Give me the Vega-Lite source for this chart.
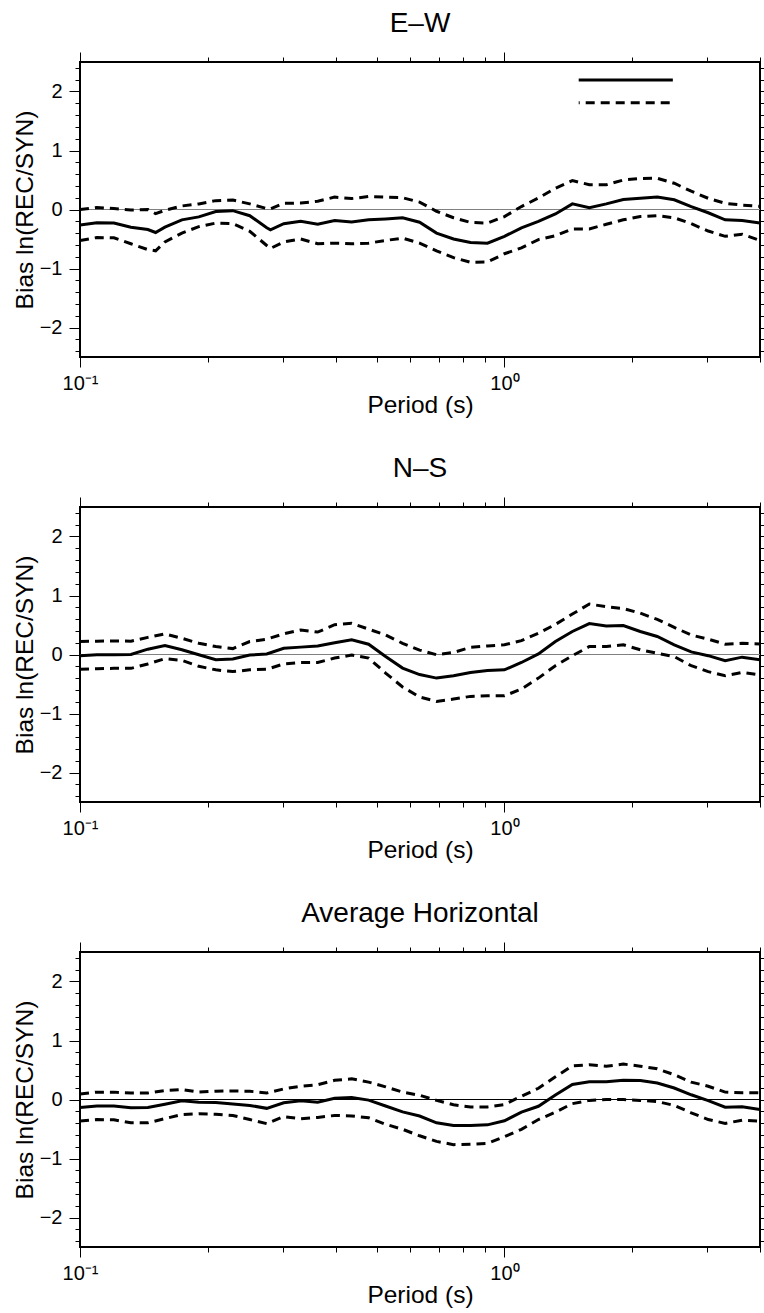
{
  "$schema": "https://vega.github.io/schema/vega-lite/v6.json",
  "padding": {"left": 11, "top": 8, "right": 0, "bottom": 0},
  "background": "white",
  "datasets": {
    "bias": [
      {"c":"E–W","T":0.1,"m":-0.265,"u":0.0,"l":-0.525},
      {"c":"E–W","T":0.1096,"m":-0.225,"u":0.035,"l":-0.475},
      {"c":"E–W","T":0.1202,"m":-0.23,"u":0.015,"l":-0.48},
      {"c":"E–W","T":0.1318,"m":-0.3,"u":-0.01,"l":-0.58},
      {"c":"E–W","T":0.1445,"m":-0.34,"u":0.0,"l":-0.68},
      {"c":"E–W","T":0.1507,"m":-0.39,"u":-0.07,"l":-0.7},
      {"c":"E–W","T":0.1585,"m":-0.3,"u":-0.015,"l":-0.55},
      {"c":"E–W","T":0.1738,"m":-0.175,"u":0.06,"l":-0.4},
      {"c":"E–W","T":0.1905,"m":-0.125,"u":0.095,"l":-0.29},
      {"c":"E–W","T":0.2089,"m":-0.035,"u":0.15,"l":-0.23},
      {"c":"E–W","T":0.2291,"m":-0.02,"u":0.16,"l":-0.24},
      {"c":"E–W","T":0.2512,"m":-0.105,"u":0.095,"l":-0.37},
      {"c":"E–W","T":0.2754,"m":-0.31,"u":0.015,"l":-0.61},
      {"c":"E–W","T":0.281,"m":-0.345,"u":0.01,"l":-0.66},
      {"c":"E–W","T":0.302,"m":-0.24,"u":0.105,"l":-0.55},
      {"c":"E–W","T":0.3311,"m":-0.2,"u":0.11,"l":-0.5},
      {"c":"E–W","T":0.3631,"m":-0.25,"u":0.14,"l":-0.58},
      {"c":"E–W","T":0.3981,"m":-0.185,"u":0.21,"l":-0.57},
      {"c":"E–W","T":0.4365,"m":-0.21,"u":0.185,"l":-0.58},
      {"c":"E–W","T":0.4786,"m":-0.175,"u":0.22,"l":-0.57},
      {"c":"E–W","T":0.5248,"m":-0.16,"u":0.21,"l":-0.525},
      {"c":"E–W","T":0.5754,"m":-0.14,"u":0.2,"l":-0.485},
      {"c":"E–W","T":0.631,"m":-0.215,"u":0.125,"l":-0.57},
      {"c":"E–W","T":0.6918,"m":-0.4,"u":-0.03,"l":-0.7},
      {"c":"E–W","T":0.7586,"m":-0.5,"u":-0.14,"l":-0.815},
      {"c":"E–W","T":0.8318,"m":-0.56,"u":-0.22,"l":-0.895},
      {"c":"E–W","T":0.912,"m":-0.57,"u":-0.23,"l":-0.89},
      {"c":"E–W","T":1.0,"m":-0.455,"u":-0.12,"l":-0.75},
      {"c":"E–W","T":1.0965,"m":-0.31,"u":0.05,"l":-0.65},
      {"c":"E–W","T":1.2023,"m":-0.2,"u":0.195,"l":-0.51},
      {"c":"E–W","T":1.3183,"m":-0.075,"u":0.36,"l":-0.445},
      {"c":"E–W","T":1.4454,"m":0.095,"u":0.49,"l":-0.33},
      {"c":"E–W","T":1.5849,"m":0.03,"u":0.42,"l":-0.33},
      {"c":"E–W","T":1.7378,"m":0.095,"u":0.42,"l":-0.25},
      {"c":"E–W","T":1.9055,"m":0.17,"u":0.5,"l":-0.175},
      {"c":"E–W","T":2.0893,"m":0.19,"u":0.525,"l":-0.12},
      {"c":"E–W","T":2.2909,"m":0.21,"u":0.53,"l":-0.105},
      {"c":"E–W","T":2.5119,"m":0.165,"u":0.445,"l":-0.14},
      {"c":"E–W","T":2.7542,"m":0.05,"u":0.31,"l":-0.24},
      {"c":"E–W","T":3.02,"m":-0.055,"u":0.19,"l":-0.365},
      {"c":"E–W","T":3.3113,"m":-0.175,"u":0.105,"l":-0.455},
      {"c":"E–W","T":3.6308,"m":-0.185,"u":0.075,"l":-0.42},
      {"c":"E–W","T":4.0,"m":-0.23,"u":0.055,"l":-0.525},

      {"c":"N–S","T":0.1,"m":-0.02,"u":0.22,"l":-0.25},
      {"c":"N–S","T":0.1096,"m":-0.005,"u":0.225,"l":-0.24},
      {"c":"N–S","T":0.1202,"m":-0.005,"u":0.23,"l":-0.235},
      {"c":"N–S","T":0.1318,"m":0.0,"u":0.225,"l":-0.235},
      {"c":"N–S","T":0.1445,"m":0.09,"u":0.29,"l":-0.16},
      {"c":"N–S","T":0.1585,"m":0.15,"u":0.35,"l":-0.07},
      {"c":"N–S","T":0.1738,"m":0.08,"u":0.275,"l":-0.1},
      {"c":"N–S","T":0.1905,"m":-0.005,"u":0.19,"l":-0.2},
      {"c":"N–S","T":0.2089,"m":-0.09,"u":0.135,"l":-0.26},
      {"c":"N–S","T":0.2291,"m":-0.075,"u":0.1,"l":-0.29},
      {"c":"N–S","T":0.2512,"m":-0.01,"u":0.22,"l":-0.26},
      {"c":"N–S","T":0.2754,"m":0.01,"u":0.26,"l":-0.25},
      {"c":"N–S","T":0.302,"m":0.105,"u":0.35,"l":-0.16},
      {"c":"N–S","T":0.3311,"m":0.125,"u":0.415,"l":-0.135},
      {"c":"N–S","T":0.3631,"m":0.145,"u":0.38,"l":-0.135},
      {"c":"N–S","T":0.3981,"m":0.2,"u":0.505,"l":-0.06},
      {"c":"N–S","T":0.4365,"m":0.25,"u":0.53,"l":-0.01},
      {"c":"N–S","T":0.4786,"m":0.175,"u":0.43,"l":-0.06},
      {"c":"N–S","T":0.5248,"m":-0.035,"u":0.33,"l":-0.315},
      {"c":"N–S","T":0.5754,"m":-0.23,"u":0.19,"l":-0.55},
      {"c":"N–S","T":0.631,"m":-0.34,"u":0.075,"l":-0.72},
      {"c":"N–S","T":0.6918,"m":-0.4,"u":-0.005,"l":-0.795},
      {"c":"N–S","T":0.7586,"m":-0.36,"u":0.035,"l":-0.755},
      {"c":"N–S","T":0.8318,"m":-0.305,"u":0.12,"l":-0.71},
      {"c":"N–S","T":0.912,"m":-0.27,"u":0.145,"l":-0.7},
      {"c":"N–S","T":1.0,"m":-0.26,"u":0.165,"l":-0.7},
      {"c":"N–S","T":1.0965,"m":-0.135,"u":0.235,"l":-0.585},
      {"c":"N–S","T":1.2023,"m":0.01,"u":0.36,"l":-0.4},
      {"c":"N–S","T":1.3183,"m":0.22,"u":0.51,"l":-0.19},
      {"c":"N–S","T":1.4454,"m":0.39,"u":0.685,"l":-0.02},
      {"c":"N–S","T":1.5849,"m":0.525,"u":0.855,"l":0.135},
      {"c":"N–S","T":1.7378,"m":0.485,"u":0.81,"l":0.135},
      {"c":"N–S","T":1.9055,"m":0.49,"u":0.78,"l":0.165},
      {"c":"N–S","T":2.0893,"m":0.39,"u":0.7,"l":0.08},
      {"c":"N–S","T":2.2909,"m":0.305,"u":0.595,"l":0.02},
      {"c":"N–S","T":2.5119,"m":0.165,"u":0.46,"l":-0.035},
      {"c":"N–S","T":2.7542,"m":0.045,"u":0.33,"l":-0.19},
      {"c":"N–S","T":3.02,"m":-0.02,"u":0.26,"l":-0.29},
      {"c":"N–S","T":3.3113,"m":-0.105,"u":0.175,"l":-0.36},
      {"c":"N–S","T":3.6308,"m":-0.045,"u":0.19,"l":-0.305},
      {"c":"N–S","T":4.0,"m":-0.09,"u":0.18,"l":-0.345},

      {"c":"Average Horizontal","T":0.1,"m":-0.135,"u":0.095,"l":-0.365},
      {"c":"Average Horizontal","T":0.1096,"m":-0.11,"u":0.125,"l":-0.34},
      {"c":"Average Horizontal","T":0.1202,"m":-0.11,"u":0.125,"l":-0.345},
      {"c":"Average Horizontal","T":0.1318,"m":-0.14,"u":0.11,"l":-0.395},
      {"c":"Average Horizontal","T":0.1445,"m":-0.135,"u":0.11,"l":-0.395},
      {"c":"Average Horizontal","T":0.1585,"m":-0.08,"u":0.15,"l":-0.325},
      {"c":"Average Horizontal","T":0.1738,"m":-0.02,"u":0.17,"l":-0.255},
      {"c":"Average Horizontal","T":0.1905,"m":-0.045,"u":0.125,"l":-0.24},
      {"c":"Average Horizontal","T":0.2089,"m":-0.05,"u":0.14,"l":-0.25},
      {"c":"Average Horizontal","T":0.2291,"m":-0.075,"u":0.145,"l":-0.27},
      {"c":"Average Horizontal","T":0.2512,"m":-0.1,"u":0.14,"l":-0.34},
      {"c":"Average Horizontal","T":0.2754,"m":-0.15,"u":0.11,"l":-0.41},
      {"c":"Average Horizontal","T":0.302,"m":-0.055,"u":0.18,"l":-0.29},
      {"c":"Average Horizontal","T":0.3311,"m":-0.02,"u":0.225,"l":-0.325},
      {"c":"Average Horizontal","T":0.3631,"m":-0.045,"u":0.25,"l":-0.305},
      {"c":"Average Horizontal","T":0.3981,"m":0.02,"u":0.325,"l":-0.27},
      {"c":"Average Horizontal","T":0.4365,"m":0.035,"u":0.35,"l":-0.28},
      {"c":"Average Horizontal","T":0.4786,"m":-0.01,"u":0.295,"l":-0.31},
      {"c":"Average Horizontal","T":0.5248,"m":-0.11,"u":0.215,"l":-0.42},
      {"c":"Average Horizontal","T":0.5754,"m":-0.21,"u":0.125,"l":-0.505},
      {"c":"Average Horizontal","T":0.631,"m":-0.28,"u":0.072,"l":-0.615},
      {"c":"Average Horizontal","T":0.6918,"m":-0.395,"u":-0.015,"l":-0.71},
      {"c":"Average Horizontal","T":0.7586,"m":-0.44,"u":-0.09,"l":-0.765},
      {"c":"Average Horizontal","T":0.8318,"m":-0.44,"u":-0.125,"l":-0.76},
      {"c":"Average Horizontal","T":0.912,"m":-0.43,"u":-0.125,"l":-0.745},
      {"c":"Average Horizontal","T":1.0,"m":-0.36,"u":-0.085,"l":-0.63},
      {"c":"Average Horizontal","T":1.0965,"m":-0.215,"u":0.055,"l":-0.505},
      {"c":"Average Horizontal","T":1.2023,"m":-0.115,"u":0.19,"l":-0.34},
      {"c":"Average Horizontal","T":1.3183,"m":0.075,"u":0.385,"l":-0.215},
      {"c":"Average Horizontal","T":1.4454,"m":0.255,"u":0.57,"l":-0.07},
      {"c":"Average Horizontal","T":1.5849,"m":0.3,"u":0.59,"l":-0.015},
      {"c":"Average Horizontal","T":1.7378,"m":0.3,"u":0.565,"l":0.0},
      {"c":"Average Horizontal","T":1.9055,"m":0.325,"u":0.6,"l":0.0},
      {"c":"Average Horizontal","T":2.0893,"m":0.32,"u":0.565,"l":-0.015},
      {"c":"Average Horizontal","T":2.2909,"m":0.28,"u":0.52,"l":-0.035},
      {"c":"Average Horizontal","T":2.5119,"m":0.195,"u":0.42,"l":-0.1},
      {"c":"Average Horizontal","T":2.7542,"m":0.08,"u":0.295,"l":-0.225},
      {"c":"Average Horizontal","T":3.02,"m":-0.02,"u":0.225,"l":-0.34},
      {"c":"Average Horizontal","T":3.3113,"m":-0.13,"u":0.125,"l":-0.405},
      {"c":"Average Horizontal","T":3.6308,"m":-0.125,"u":0.115,"l":-0.35},
      {"c":"Average Horizontal","T":4.0,"m":-0.17,"u":0.115,"l":-0.365}
    ],
    "legend": [
      {"s":"solid","T":1.496,"v":2.196},
      {"s":"solid","T":2.493,"v":2.196},
      {"s":"dashed","T":1.496,"v":1.808},
      {"s":"dashed","T":2.493,"v":1.808}
    ]
  },
  "config": {
    "font": "Liberation Sans",
    "view": {"stroke": "black", "strokeWidth": 2},
    "axis": {
      "grid": false,
      "domain": false,
      "tickColor": "black",
      "tickWidth": 1,
      "labelColor": "black",
      "titleColor": "black",
      "labelFont": "Liberation Sans",
      "titleFont": "Liberation Sans",
      "labelFontSize": 20,
      "titleFontSize": 24.5,
      "titleFontWeight": "normal"
    },
    "title": {"font": "Liberation Sans", "fontSize": 28, "fontWeight": "normal", "color": "black", "frame": "group", "anchor": "middle", "offset": 14}
  },
  "spacing": 35,
  "vconcat": [
    {
      "title": "E–W",
      "width": 680, "height": 295,
      "data": {"name": "bias"},
      "transform": [{"filter": "datum.c == 'E–W'"}],
      "layer": [
        {"mark": {"type": "rule", "color": "#808080", "strokeWidth": 1},
         "encoding": {"y": {"datum": 0, "type": "quantitative", "scale": {"domain": [-2.5, 2.5], "nice": false, "zero": false}, "axis": null}}},
        {"mark": {"type": "line", "color": "black", "strokeWidth": 3, "clip": true},
         "encoding": {
           "x": {"field": "T", "type": "quantitative", "scale": {"type": "log", "domain": [0.1, 4], "nice": false},
                 "axis": {"orient": "bottom", "title": "Period (s)", "values": [0.1,0.2,0.3,0.4,0.5,0.6,0.7,0.8,0.9,1,2,3,4], "tickSize": {"condition": {"test": "datum.value == 0.1 || datum.value == 1", "value": 10}, "value": 5}, "labelExpr": "datum.value == 0.1 ? '10⁻¹' : (datum.value == 1 ? '10⁰' : '')", "labelPadding": 6, "titlePadding": 0, "labelOverlap": false, "labelFlush": false}},
           "y": {"field": "m", "type": "quantitative", "scale": {"domain": [-2.5, 2.5], "nice": false, "zero": false},
                 "axis": {"orient": "left", "title": "Bias ln(REC/SYN)", "values": [-2.4,-2.2,-2,-1.8,-1.6,-1.4,-1.2,-1,-0.8,-0.6,-0.4,-0.2,0,0.2,0.4,0.6,0.8,1,1.2,1.4,1.6,1.8,2,2.2,2.4], "tickSize": {"condition": {"test": "datum.value % 1 == 0", "value": 11}, "value": 5}, "labelExpr": "datum.value % 1 == 0 ? replace(format(datum.value, '.0f'), '-', '−') : ''", "labelPadding": 7, "titlePadding": 2, "labelOverlap": false, "labelFlush": false}}
         }},
        {"mark": {"type": "line", "color": "black", "strokeWidth": 3, "strokeDash": [9, 6], "clip": true},
         "encoding": {
           "x": {"field": "T", "type": "quantitative",
                 "axis": {"orient": "top", "title": null, "labels": false, "values": [0.1,0.2,0.3,0.4,0.5,0.6,0.7,0.8,0.9,1,2,3,4], "tickSize": {"condition": {"test": "datum.value == 0.1 || datum.value == 1", "value": 10}, "value": 5}}},
           "y": {"field": "u", "type": "quantitative",
                 "axis": {"orient": "right", "title": null, "labels": false, "values": [-2.4,-2.2,-2,-1.8,-1.6,-1.4,-1.2,-1,-0.8,-0.6,-0.4,-0.2,0,0.2,0.4,0.6,0.8,1,1.2,1.4,1.6,1.8,2,2.2,2.4], "tickSize": {"condition": {"test": "datum.value % 1 == 0", "value": 11}, "value": 5}}}
         }},
        {"mark": {"type": "line", "color": "black", "strokeWidth": 3, "strokeDash": [9, 6], "clip": true},
         "encoding": {
           "x": {"field": "T", "type": "quantitative", "axis": null},
           "y": {"field": "l", "type": "quantitative", "axis": null}
         }},
        {"data": {"name": "legend"},
         "transform": [{"filter": "datum.s == 'solid'"}],
         "mark": {"type": "line", "color": "black", "strokeWidth": 3},
         "encoding": {
           "x": {"field": "T", "type": "quantitative", "axis": null},
           "y": {"field": "v", "type": "quantitative", "axis": null}
         }},
        {"data": {"name": "legend"},
         "transform": [{"filter": "datum.s == 'dashed'"}],
         "mark": {"type": "line", "color": "black", "strokeWidth": 3, "strokeDash": [9, 6], "strokeDashOffset": 8},
         "encoding": {
           "x": {"field": "T", "type": "quantitative", "axis": null},
           "y": {"field": "v", "type": "quantitative", "axis": null}
         }}
      ],
      "resolve": {"axis": {"x": "independent", "y": "independent"}}
    },
    {
      "title": "N–S",
      "width": 680, "height": 295,
      "data": {"name": "bias"},
      "transform": [{"filter": "datum.c == 'N–S'"}],
      "layer": [
        {"mark": {"type": "rule", "color": "#808080", "strokeWidth": 1},
         "encoding": {"y": {"datum": 0, "type": "quantitative", "scale": {"domain": [-2.5, 2.5], "nice": false, "zero": false}, "axis": null}}},
        {"mark": {"type": "line", "color": "black", "strokeWidth": 3, "clip": true},
         "encoding": {
           "x": {"field": "T", "type": "quantitative", "scale": {"type": "log", "domain": [0.1, 4], "nice": false},
                 "axis": {"orient": "bottom", "title": "Period (s)", "values": [0.1,0.2,0.3,0.4,0.5,0.6,0.7,0.8,0.9,1,2,3,4], "tickSize": {"condition": {"test": "datum.value == 0.1 || datum.value == 1", "value": 10}, "value": 5}, "labelExpr": "datum.value == 0.1 ? '10⁻¹' : (datum.value == 1 ? '10⁰' : '')", "labelPadding": 6, "titlePadding": 0, "labelOverlap": false, "labelFlush": false}},
           "y": {"field": "m", "type": "quantitative", "scale": {"domain": [-2.5, 2.5], "nice": false, "zero": false},
                 "axis": {"orient": "left", "title": "Bias ln(REC/SYN)", "values": [-2.4,-2.2,-2,-1.8,-1.6,-1.4,-1.2,-1,-0.8,-0.6,-0.4,-0.2,0,0.2,0.4,0.6,0.8,1,1.2,1.4,1.6,1.8,2,2.2,2.4], "tickSize": {"condition": {"test": "datum.value % 1 == 0", "value": 11}, "value": 5}, "labelExpr": "datum.value % 1 == 0 ? replace(format(datum.value, '.0f'), '-', '−') : ''", "labelPadding": 7, "titlePadding": 2, "labelOverlap": false, "labelFlush": false}}
         }},
        {"mark": {"type": "line", "color": "black", "strokeWidth": 3, "strokeDash": [9, 6], "clip": true},
         "encoding": {
           "x": {"field": "T", "type": "quantitative",
                 "axis": {"orient": "top", "title": null, "labels": false, "values": [0.1,0.2,0.3,0.4,0.5,0.6,0.7,0.8,0.9,1,2,3,4], "tickSize": {"condition": {"test": "datum.value == 0.1 || datum.value == 1", "value": 10}, "value": 5}}},
           "y": {"field": "u", "type": "quantitative",
                 "axis": {"orient": "right", "title": null, "labels": false, "values": [-2.4,-2.2,-2,-1.8,-1.6,-1.4,-1.2,-1,-0.8,-0.6,-0.4,-0.2,0,0.2,0.4,0.6,0.8,1,1.2,1.4,1.6,1.8,2,2.2,2.4], "tickSize": {"condition": {"test": "datum.value % 1 == 0", "value": 11}, "value": 5}}}
         }},
        {"mark": {"type": "line", "color": "black", "strokeWidth": 3, "strokeDash": [9, 6], "clip": true},
         "encoding": {
           "x": {"field": "T", "type": "quantitative", "axis": null},
           "y": {"field": "l", "type": "quantitative", "axis": null}
         }}
      ],
      "resolve": {"axis": {"x": "independent", "y": "independent"}}
    },
    {
      "title": "Average Horizontal",
      "width": 680, "height": 295,
      "data": {"name": "bias"},
      "transform": [{"filter": "datum.c == 'Average Horizontal'"}],
      "layer": [
        {"mark": {"type": "rule", "color": "black", "strokeWidth": 1},
         "encoding": {"y": {"datum": 0, "type": "quantitative", "scale": {"domain": [-2.5, 2.5], "nice": false, "zero": false}, "axis": null}}},
        {"mark": {"type": "line", "color": "black", "strokeWidth": 3, "clip": true},
         "encoding": {
           "x": {"field": "T", "type": "quantitative", "scale": {"type": "log", "domain": [0.1, 4], "nice": false},
                 "axis": {"orient": "bottom", "title": "Period (s)", "values": [0.1,0.2,0.3,0.4,0.5,0.6,0.7,0.8,0.9,1,2,3,4], "tickSize": {"condition": {"test": "datum.value == 0.1 || datum.value == 1", "value": 10}, "value": 5}, "labelExpr": "datum.value == 0.1 ? '10⁻¹' : (datum.value == 1 ? '10⁰' : '')", "labelPadding": 6, "titlePadding": 0, "labelOverlap": false, "labelFlush": false}},
           "y": {"field": "m", "type": "quantitative", "scale": {"domain": [-2.5, 2.5], "nice": false, "zero": false},
                 "axis": {"orient": "left", "title": "Bias ln(REC/SYN)", "values": [-2.4,-2.2,-2,-1.8,-1.6,-1.4,-1.2,-1,-0.8,-0.6,-0.4,-0.2,0,0.2,0.4,0.6,0.8,1,1.2,1.4,1.6,1.8,2,2.2,2.4], "tickSize": {"condition": {"test": "datum.value % 1 == 0", "value": 11}, "value": 5}, "labelExpr": "datum.value % 1 == 0 ? replace(format(datum.value, '.0f'), '-', '−') : ''", "labelPadding": 7, "titlePadding": 2, "labelOverlap": false, "labelFlush": false}}
         }},
        {"mark": {"type": "line", "color": "black", "strokeWidth": 3, "strokeDash": [9, 6], "clip": true},
         "encoding": {
           "x": {"field": "T", "type": "quantitative",
                 "axis": {"orient": "top", "title": null, "labels": false, "values": [0.1,0.2,0.3,0.4,0.5,0.6,0.7,0.8,0.9,1,2,3,4], "tickSize": {"condition": {"test": "datum.value == 0.1 || datum.value == 1", "value": 10}, "value": 5}}},
           "y": {"field": "u", "type": "quantitative",
                 "axis": {"orient": "right", "title": null, "labels": false, "values": [-2.4,-2.2,-2,-1.8,-1.6,-1.4,-1.2,-1,-0.8,-0.6,-0.4,-0.2,0,0.2,0.4,0.6,0.8,1,1.2,1.4,1.6,1.8,2,2.2,2.4], "tickSize": {"condition": {"test": "datum.value % 1 == 0", "value": 11}, "value": 5}}}
         }},
        {"mark": {"type": "line", "color": "black", "strokeWidth": 3, "strokeDash": [9, 6], "clip": true},
         "encoding": {
           "x": {"field": "T", "type": "quantitative", "axis": null},
           "y": {"field": "l", "type": "quantitative", "axis": null}
         }}
      ],
      "resolve": {"axis": {"x": "independent", "y": "independent"}}
    }
  ]
}
